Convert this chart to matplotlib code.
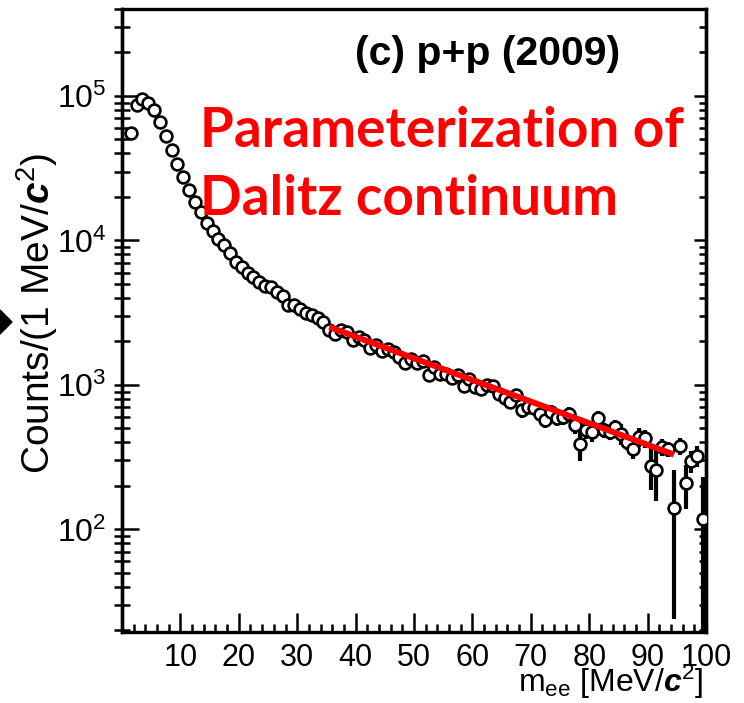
import matplotlib
matplotlib.use('Agg')
import matplotlib.pyplot as plt
import matplotlib.ticker as mticker
from matplotlib.patches import Polygon

# ----------------------------
# 1) Data
# ----------------------------
# dielectron invariant mass bins (MeV/c^2), 1 MeV wide
mass = [1.5, 2.5, 3.5, 4.5, 5.5, 6.5, 7.5, 8.5, 9.5, 10.5,
        11.5, 12.5, 13.5, 14.5, 15.5, 16.5, 17.5, 18.5, 19.5, 20.5,
        21.5, 22.5, 23.5, 24.5, 25.5, 26.5, 27.5, 28.5, 29.5, 30.5,
        31.5, 32.5, 33.5, 34.5, 35.5, 36.5, 37.5, 38.5, 39.5, 40.5,
        41.5, 42.5, 43.5, 44.5, 45.5, 46.5, 47.5, 48.5, 49.5, 50.5,
        51.5, 52.5, 53.5, 54.5, 55.5, 56.5, 57.5, 58.5, 59.5, 60.5,
        61.5, 62.5, 63.5, 64.5, 65.5, 66.5, 67.5, 68.5, 69.5, 70.5,
        71.5, 72.5, 73.5, 74.5, 75.5, 76.5, 77.5, 78.5, 79.5, 80.5,
        81.5, 82.5, 83.5, 84.5, 85.5, 86.5, 87.5, 88.5, 89.5, 90.5,
        91.5, 92.5, 93.5, 94.5, 95.5, 96.5, 97.5, 98.5, 99.5]

counts = [55000, 86000, 96000, 90000, 80000, 66000, 53000, 42000, 34000, 27400,
          22200, 18400, 15700, 13300, 11600, 10300, 9250, 8200, 7100, 6550,
          5980, 5590, 5160, 4810, 4770, 4400, 4130, 3600, 3600, 3370,
          3160, 3030, 2910, 2730, 2390, 2260, 2390, 2330, 2040, 2150,
          2040, 1790, 1880, 1710, 1770, 1690, 1560, 1430, 1520, 1410,
          1460, 1180, 1330, 1200, 1200, 1110, 1170, 986, 1100, 970,
          934, 1000, 990, 859, 815, 764, 849, 668, 706, 693,
          634, 570, 652, 587, 601, 634, 527, 388, 487, 474,
          593, 487, 474, 513, 461, 404, 360, 438, 426, 276,
          258, 373, 360, 140, 377, 208, 297, 324, 119]

# visible error bars (only the high-mass tail, x >= 60.5)
err_mass = mass[59:]
err_counts = counts[59:]
err_size = [90, 90, 95, 95, 85, 85, 80, 85, 75, 75,
            75, 70, 70, 75, 70, 70, 75, 70, 90, 65,
            70, 70, 60, 55, 60, 75, 50, 55, 65, 60,
            88, 100, 50, 45, 116, 50, 70, 50, 55, 112]

# exponential parameterization of the Dalitz continuum (end points)
fit_mass = [35.5, 94.5]
fit_counts = [2520, 330]

xticks = [10, 20, 30, 40, 50, 60, 70, 80, 90, 100]

# ----------------------------
# 2) Style
# ----------------------------
plt.rcParams['font.family'] = ['Liberation Sans', 'DejaVu Sans']
plt.rcParams['mathtext.fontset'] = 'custom'
plt.rcParams['mathtext.rm'] = 'Liberation Sans'
plt.rcParams['mathtext.it'] = 'Liberation Sans:italic'
plt.rcParams['mathtext.bf'] = 'Liberation Sans:bold'
plt.rcParams['mathtext.bfit'] = 'Liberation Sans:bold:italic'

W, H = 744, 703
fig = plt.figure(figsize=(W / 100, H / 100), dpi=100)
ax = fig.add_axes([122 / W, 1 - 632 / H, (706 - 122) / W, (632 - 9) / H])

# ----------------------------
# 3) Draw
# ----------------------------
ax.errorbar(err_mass, err_counts, yerr=err_size, fmt='none',
            ecolor='black', elinewidth=3.0, capsize=0, zorder=2)
ax.plot(mass, counts, 'o', ms=8.5, mfc='white', mec='black', mew=1.9,
        zorder=3)
ax.plot(fit_mass, fit_counts, '-', color='#ff0000', lw=4.3,
        solid_capstyle='butt', zorder=4)

ax.set_yscale('log')
ax.set_xlim(0, 100)
ax.set_ylim(19.5, 4.0e5)

for s in ax.spines.values():
    s.set_linewidth(2.4)

ax.set_xticks(xticks)
ax.set_xticklabels([str(t) for t in xticks])
ax.xaxis.set_minor_locator(mticker.MultipleLocator(2))
ax.tick_params(axis='x', which='major', direction='in', length=14, width=1.8,
               labelsize=22, pad=8, top=False)
ax.tick_params(axis='x', which='minor', direction='in', length=6, width=1.8, top=False)

ax.yaxis.set_major_locator(mticker.LogLocator(base=10, numticks=10))
ax.yaxis.set_minor_locator(mticker.LogLocator(base=10, subs=range(2, 10), numticks=10))
ax.yaxis.set_major_formatter(mticker.LogFormatterMathtext())
ax.yaxis.set_minor_formatter(mticker.NullFormatter())
ax.tick_params(axis='y', which='major', direction='in', length=12, width=1.8,
               labelsize=23, pad=11, right=False)
ax.tick_params(axis='y', which='minor', direction='in', length=6, width=1.8, right=False)

# outward stubs on the left spine
sec_l = ax.secondary_yaxis('left')
sec_l.yaxis.set_major_locator(mticker.LogLocator(base=10, numticks=10))
sec_l.yaxis.set_minor_locator(mticker.LogLocator(base=10, subs=range(2, 10), numticks=10))
sec_l.tick_params(which='both', direction='out', length=5.5, width=1.8,
                  labelleft=False)
sec_l.spines['left'].set_linewidth(2.4)

# inward ticks on the right spine
sec_r = ax.secondary_yaxis('right')
sec_r.yaxis.set_major_locator(mticker.LogLocator(base=10, numticks=10))
sec_r.yaxis.set_minor_locator(mticker.LogLocator(base=10, subs=range(2, 10), numticks=10))
sec_r.tick_params(which='major', direction='in', length=9, width=1.8, labelright=False)
sec_r.tick_params(which='minor', direction='in', length=5, width=1.8, labelright=False)
sec_r.spines['right'].set_linewidth(2.4)

ax.set_ylabel(r'Counts/(1 MeV/$\mathbfit{c}^{2}$)', fontsize=28)
ax.yaxis.set_label_coords((60 - 122) / 584, (632 - 314) / 623)
ax.set_xlabel(r'm$_{\mathrm{ee}}$ [MeV/$\mathbfit{c}^{2}$]', fontsize=23, ha='right', va='bottom')
ax.xaxis.set_label_coords((703 - 122) / 584, (632 - 701) / 623)

# panel label and annotation
fig.text(488 / W, 1 - 54 / H, '(c) p+p (2009)', fontsize=29.5, fontweight='bold',
         ha='center', va='center')
fig.text(200 / W, 1 - 147 / H, 'Parameterization of', fontsize=39.5,
         fontweight='bold', family=['Lato', 'DejaVu Sans'], color='#ff0000',
         ha='left', va='baseline')
fig.text(200 / W, 1 - 215 / H, 'Dalitz continuum', fontsize=39.5,
         fontweight='bold', family=['Lato', 'DejaVu Sans'], color='#ff0000',
         ha='left', va='baseline')

# cut-off arrow head at the left edge of the slide
fig.add_artist(Polygon([[-12 / W, 1 - 322 / H], [0, 1 - 310 / H],
                        [12 / W, 1 - 322 / H], [0, 1 - 334 / H]],
                       closed=True, color='black', transform=fig.transFigure))

fig.savefig('out.png', dpi=100)
